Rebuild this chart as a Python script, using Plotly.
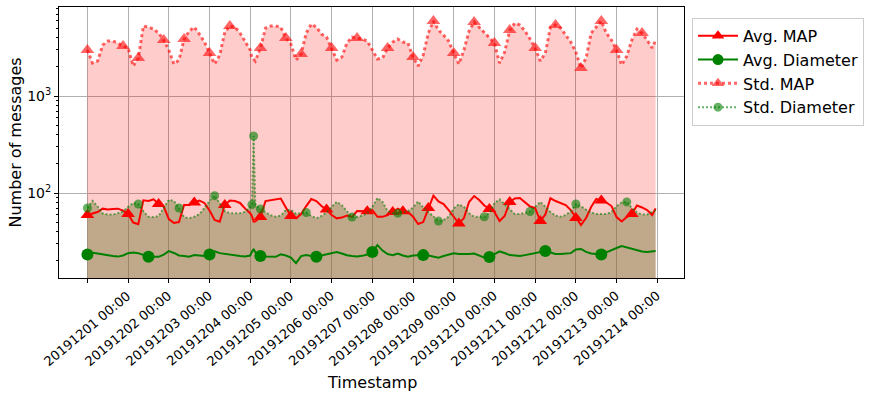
import plotly.graph_objects as go

# hours since 2019-12-01 00:00 (readings every 3 h, plus the spike on day 5)
hours = list(range(0, 97, 3)) + [97, 98] + list(range(99, 334, 3)) + [335]

day_labels = ['20191201 00:00', '20191202 00:00', '20191203 00:00', '20191204 00:00',
              '20191205 00:00', '20191206 00:00', '20191207 00:00', '20191208 00:00',
              '20191209 00:00', '20191210 00:00', '20191211 00:00', '20191212 00:00',
              '20191213 00:00', '20191214 00:00']
day_ticks = [0, 24, 48, 72, 96, 120, 144, 168, 192, 216, 240, 264, 288, 312, 336]

avg_map = [
    59.3, 62, 63.7, 69, 67.5, 68.4, 69, 66,
    60.7, 49.6, 47.6, 84, 82.7, 86, 77, 72.5,
    53.9, 49.1, 50.2, 75.2, 75.2, 79.8, 83.7, 79,
    66, 52.7, 50.6, 75.2, 83.7, 82.7, 79, 69,
    62, 57.9, 50.6, 51, 56.5, 82.7, 84.7, 86.7, 87.8, 71,
    57.9, 54.8, 60.7, 73.4, 86.7, 82.7, 73.4, 67.5,
    59.3, 54.8, 55.8, 58.6, 56.8, 65.2, 64.5, 64.7,
    66.8, 56.8, 56.8, 59.3, 63.7, 69, 64.7, 63.7,
    57, 47.9, 50.2, 70, 94, 82, 77, 66.8,
    56.5, 48.5, 55.2, 80.8, 93.1, 84.7, 74.3, 68.4,
    63.7, 51.4, 57.9, 80.8, 87.8, 88.8, 79.8, 72.5,
    70, 51.4, 60, 88.2, 82.7, 78.9, 75.2, 66.8,
    55.2, 46.8, 55.2, 71.7, 86.7, 83.7, 79.8, 73.4,
    56.5, 51, 56.5, 60.7, 74.3, 71, 66.8, 59.3, 69.5,
]

avg_diameter = [
    23.3, 24.2, 23.8, 23.2, 22.7, 22.4, 22.1, 22.7,
    24, 24.4, 24, 22.9, 22, 22, 22, 23.2,
    25.2, 24.1, 22.7, 22.4, 22, 22.9, 22.7, 22.4,
    23.2, 25, 24, 23.5, 23.2, 22.8, 22.4, 22.2,
    22.7, 24.7, 26.5, 24.4, 22.4, 22.2, 22.1, 22, 23.3, 22.7,
    21.6, 18.9, 22.4, 22.9, 22.4, 22, 22.7, 23.3,
    24.1, 24.7, 23.8, 22.8, 22.4, 22.1, 22.5, 23.2,
    24.7, 29, 25.5, 23.5, 22.9, 23.8, 22.7, 22.1,
    22.7, 22.9, 22.9, 22.7, 21.9, 21.5, 22.4, 23.2,
    23.9, 23.5, 23.3, 23.5, 23.8, 22.7, 21.6, 21.9,
    23.2, 25, 24.1, 22.9, 22.7, 22.4, 22.9, 23.5,
    24.1, 24.7, 25.2, 24.4, 23.5, 23.5, 23.8, 24,
    26.2, 26.5, 24.7, 23.8, 23.5, 23.3, 24.4, 25.9,
    27.1, 28.4, 27.5, 26.2, 25.5, 25, 24.7, 25, 25.2,
]

std_map = [
    2980, 2189, 2295, 3355, 3689, 3689, 3518, 3276,
    3126, 2038, 2465, 5268, 5143, 4905, 4460, 3778,
    2980, 2138, 2350, 3868, 4677, 5143, 4356, 3603,
    2775, 2138, 2647, 4568, 5268, 5143, 4460, 3689,
    2980, 2465, 2407, 2295, 3126, 5023, 5268, 5268, 5143, 3961,
    3436, 2350, 2710, 4460, 5524, 5143, 4356, 4057,
    3126, 2350, 2524, 3518, 4057, 3961, 3868, 3689,
    2980, 2407, 2465, 3126, 3603, 3868, 3603, 3518,
    2524, 2038, 2647, 4460, 5933, 4789, 4253, 3689,
    2775, 2138, 2980, 4677, 5793, 5143, 4568, 4057,
    3518, 2189, 2842, 4789, 5656, 5395, 4677, 3868,
    3126, 2295, 2775, 5143, 5395, 5023, 4253, 3603,
    2842, 1944, 2465, 4460, 5143, 5933, 4460, 3778,
    2980, 2087, 2585, 3778, 4905, 4460, 3778, 3126, 3778,
]

std_diameter = [
    70, 83, 73, 61.5, 60, 60, 62, 64.5,
    72, 79, 77, 65, 57, 56.5, 58, 69.5,
    85, 83, 70, 56.5, 55, 57, 60.7, 70,
    83, 94, 79, 65, 62, 61.5, 62, 64,
    73, 76, 387, 75, 68.4, 63, 59, 57, 58.5, 67,
    67, 61, 62, 63, 58, 55, 58, 63,
    72, 81, 75, 65, 56.5, 56.5, 58.5, 62,
    72, 89, 81, 65, 62, 62, 63, 65,
    71, 82, 71, 63.7, 58, 51.4, 52.7, 57,
    69.5, 76.5, 72, 62, 57, 57, 57, 62,
    79, 86, 76, 68.4, 60.7, 60.7, 62, 64.5,
    72, 81, 72.5, 63.7, 58.5, 57, 59.3, 65,
    77, 73, 67.5, 63, 60.7, 60.7, 60.7, 63.7,
    73, 80, 81, 70, 63, 60, 60, 63.7, 66.8,
]

# hours where markers are drawn on each line
avg_map_marks = [0, 24, 42, 63, 81, 102, 120, 141, 165, 180, 186, 201, 219, 237, 249, 267, 288, 303, 321]
avg_dia_marks = [0, 36, 72, 102, 135, 168, 198, 237, 270, 303]
std_map_marks = [0, 21, 30, 45, 57, 72, 84, 102, 117, 126, 144, 159, 177, 192, 204, 216, 228, 240,
                 249, 264, 276, 291, 303, 312, 327]
std_dia_marks = [0, 30, 54, 75, 97, 98, 102, 129, 156, 183, 207, 234, 261, 288, 318]

FONT = 'DejaVu Sans'
RED = '#ff0000'
GREEN = '#008000'
RED_A = 'rgba(255,0,0,0.6)'
GREEN_A = 'rgba(0,128,0,0.6)'

fig = go.Figure()

# filled areas under the std curves
fig.add_trace(go.Scatter(x=hours, y=std_map, mode='none', fill='tozeroy',
                         fillcolor='rgba(255,0,0,0.2)', showlegend=False, hoverinfo='skip'))
fig.add_trace(go.Scatter(x=hours, y=std_diameter, mode='none', fill='tozeroy',
                         fillcolor='rgba(115,124,57,0.45)', showlegend=False, hoverinfo='skip'))

series = [
    ('Avg. MAP', avg_map, avg_map_marks, RED, 'solid', 2, 'triangle-up', 12),
    ('Avg. Diameter', avg_diameter, avg_dia_marks, GREEN, 'solid', 2, 'circle', 12),
    ('Std. MAP', std_map, std_map_marks, RED_A, '3px,3px', 3, 'triangle-up', 12),
    ('Std. Diameter', std_diameter, std_dia_marks, GREEN_A, '2px,2px', 2, 'circle', 9),
]

for name, vals, marks, color, dash, lw, sym, ms in series:
    fig.add_trace(go.Scatter(x=hours, y=vals, mode='lines', name=name, showlegend=False,
                             line=dict(color=color, width=lw, dash=dash)))
    my = [vals[hours.index(h)] for h in marks]
    fig.add_trace(go.Scatter(x=marks, y=my, mode='markers', showlegend=False,
                             marker=dict(symbol=sym, size=ms, color=color, line=dict(width=0))))

for i, (name, vals, marks, color, dash, lw, sym, ms) in enumerate(series):
    fig.add_trace(go.Scatter(x=[None], y=[None], mode='lines+markers', name=name,
                             legendgroup=str(i),
                             line=dict(color=color, width=lw, dash=dash),
                             marker=dict(symbol=sym, size=min(ms, 11), color=color, line=dict(width=0))))

# rotated day labels centred under their ticks
for h, lab in zip(day_ticks, day_labels):
    fig.add_annotation(x=h, y=0, xref='x', yref='paper', text=lab, showarrow=False,
                       textangle=-40, xanchor='center', yanchor='top', yshift=-7,
                       font=dict(family=FONT, size=13, color='black'))

fig.add_annotation(x=0.5, y=-0.384, xref='paper', yref='paper', text='Timestamp',
                   showarrow=False, xanchor='center', yanchor='middle',
                   font=dict(family=FONT, size=16, color='black'))
fig.add_annotation(x=-0.0704, y=0.5, xref='paper', yref='paper', text='Number of messages',
                   showarrow=False, textangle=-90, xanchor='center', yanchor='middle',
                   font=dict(family=FONT, size=16, color='black'))

fig.update_layout(
    width=872, height=396,
    margin=dict(l=59, r=188, t=7, b=118),
    paper_bgcolor='white', plot_bgcolor='white',
    font=dict(family=FONT, size=13, color='black'),
    legend=dict(x=1.0128, y=0.96, xanchor='left', yanchor='top',
                bgcolor='white', bordercolor='#cccccc', borderwidth=1,
                font=dict(family=FONT, size=16), tracegroupgap=0,
                traceorder='grouped', itemwidth=40),
)
fig.update_xaxes(range=[-16.75, 351.75], tickvals=day_ticks, showticklabels=False,
                 ticks='outside', ticklen=4, tickcolor='black',
                 showgrid=True, gridcolor='#b0b0b0', gridwidth=0.8,
                 showline=True, linecolor='black', linewidth=1, mirror=True, zeroline=False)
fig.update_yaxes(type='log', range=[1.1239, 3.918], tickvals=[100, 1000],
                 ticktext=['10<sup>2</sup>', '10<sup>3</sup>'],
                 ticks='outside', ticklen=4, tickcolor='black',
                 tickfont=dict(family=FONT, size=14),
                 minor=dict(tickvals=[20, 30, 40, 50, 60, 70, 80, 90,
                                      200, 300, 400, 500, 600, 700, 800, 900,
                                      2000, 3000, 4000, 5000, 6000, 7000, 8000],
                            ticks='outside', ticklen=2, tickcolor='black', showgrid=False),
                 showgrid=True, gridcolor='#b0b0b0', gridwidth=0.8,
                 showline=True, linecolor='black', linewidth=1, mirror=True, zeroline=False)

fig.write_html('out.html', config={'displayModeBar': False},
               post_script="document.body.style.margin='0px';")
